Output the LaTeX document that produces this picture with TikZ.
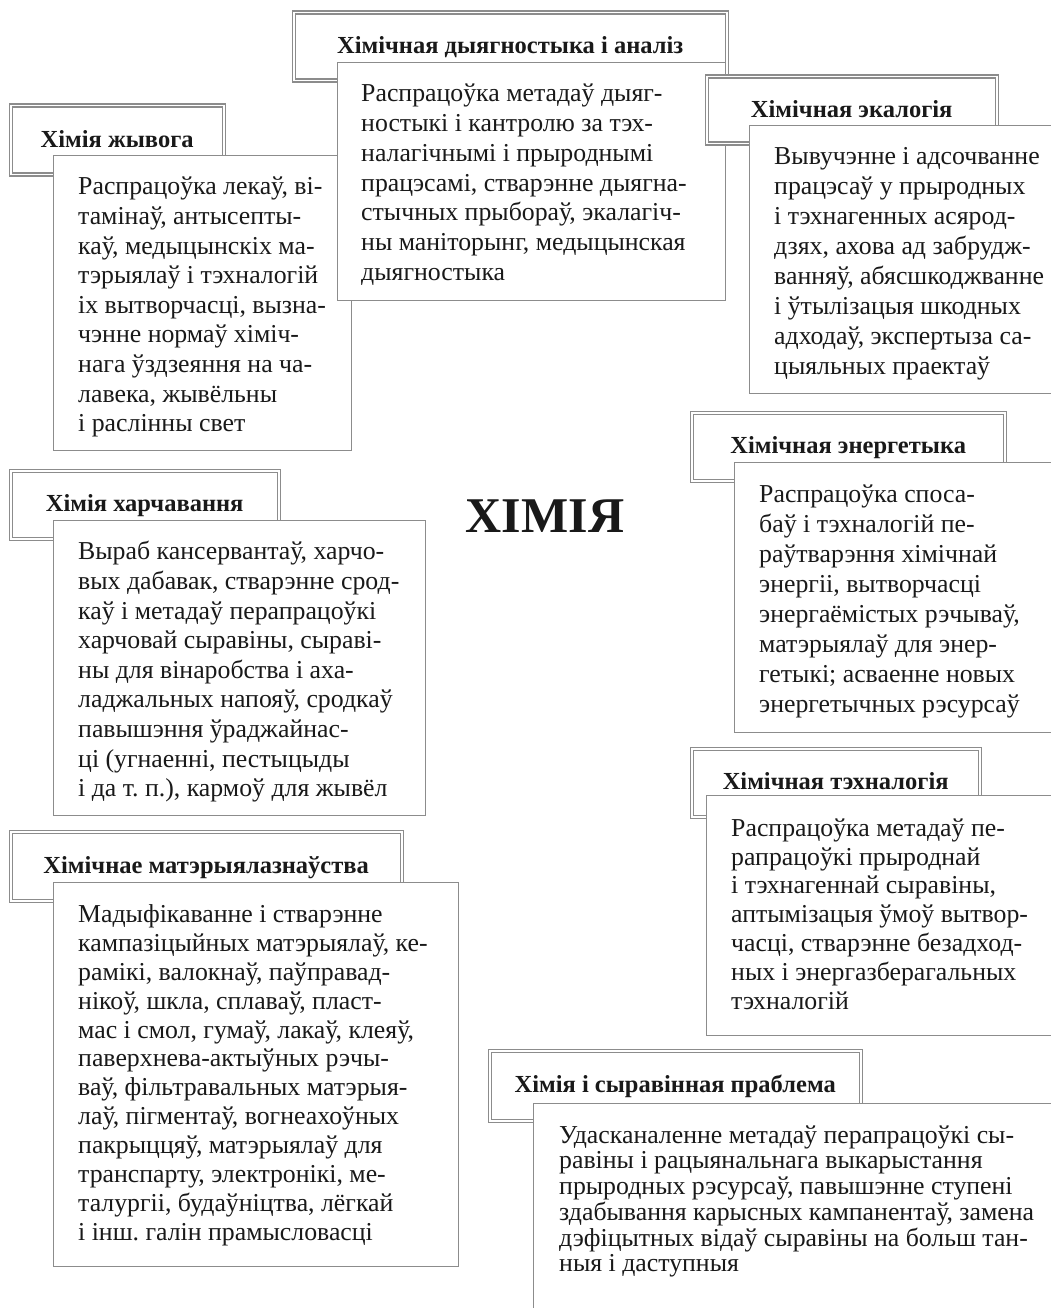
\documentclass[tikz,border=0pt]{standalone}
\usepackage{fontspec}
\setmainfont{Liberation Serif}
\usetikzlibrary{positioning}
\frenchspacing

\begin{document}
\begin{tikzpicture}[x=1pt,y=1pt,
    headbox/.style={draw=black!45,double=white,double distance=1.6pt,line width=1.4pt,
                    fill=white,anchor=north west,inner sep=0pt,text height=19pt,text depth=5pt,
                    font=\fontsize{24.5}{26}\selectfont\bfseries,text=black!90},
    bodybox/.style={draw=black!45,line width=1.3pt,fill=white,anchor=north west,inner sep=0pt},
    bodytext/.style={align=left,inner sep=0pt,font=\fontsize{25.8}{#1}\selectfont,text=black!90},
    bodytext/.default=29.6]

\useasboundingbox (0,0) rectangle (1051,-1308);
\clip (0,0) rectangle (1051,-1308);

% living matter
\node[headbox,minimum width=213,minimum height=69] (livhead) at (10,-105) {Хімія жывога};
\node[bodybox,minimum width=298,minimum height=295] (livbox) at (53,-155) {};
\node[bodytext,below right=19pt and 25pt of livbox.north west] (livtext)
  {\strut Распрацоўка лекаў, ві-\\
   тамінаў, антысепты-\\
   каў, медыцынскіх ма-\\
   тэрыялаў і тэхналогій\\
   іх вытворчасці, вызна-\\
   чэнне нормаў хіміч-\\
   нага ўздзеяння на ча-\\
   лавека, жывёльны\\
   і раслінны свет};

% diagnostics
\node[headbox,minimum width=433,minimum height=68] (diaghead) at (293,-12) {Хімічная дыягностыка і аналіз};
\node[bodybox,minimum width=388,minimum height=238] (diagbox) at (337,-62) {};
\node[bodytext=29.7,below right=19pt and 24pt of diagbox.north west] (diagtext)
  {\strut Распрацоўка метадаў дыяг-\\
   ностыкі і кантролю за тэх-\\
   налагічнымі і прыроднымі\\
   працэсамі, стварэнне дыягна-\\
   стычных прыбораў, экалагіч-\\
   ны маніторынг, медыцынская\\
   дыягностыка};

% ecology
\node[headbox,minimum width=290,minimum height=67] (ecohead) at (706,-76) {Хімічная экалогія};
\node[bodybox,minimum width=320,minimum height=268] (ecobox) at (749,-125) {};
\node[bodytext=30,below right=18pt and 25pt of ecobox.north west] (ecotext)
  {\strut Вывучэнне і адсочванне\\
   працэсаў у прыродных\\
   і тэхнагенных асярод-\\
   дзях, ахова ад забрудж-\\
   ванняў, абясшкоджванне\\
   і ўтылізацыя шкодных\\
   адходаў, экспертыза са-\\
   цыяльных праектаў};

% energy
\node[headbox,minimum width=313,minimum height=68] (enhead) at (691,-412) {Хімічная энергетыка};
\node[bodybox,minimum width=330,minimum height=270] (enbox) at (734,-462) {};
\node[bodytext=30,below right=19pt and 25pt of enbox.north west] (entext)
  {\strut Распрацоўка споса-\\
   баў і тэхналогій пе-\\
   раўтварэння хімічнай\\
   энергіі, вытворчасці\\
   энергаёмістых рэчываў,\\
   матэрыялаў для энер-\\
   гетыкі; асваенне новых\\
   энергетычных рэсурсаў};

% centre
\node[font=\fontsize{50}{50}\selectfont\bfseries,text=black!90] (chem) at (545,-516) {ХІМІЯ};

% food
\node[headbox,minimum width=268,minimum height=68] (foodhead) at (10,-470) {Хімія харчавання};
\node[bodybox,minimum width=372,minimum height=295] (foodbox) at (53,-520) {};
\node[bodytext,below right=19pt and 25pt of foodbox.north west] (foodtext)
  {\strut Выраб кансервантаў, харчо-\\
   вых дабавак, стварэнне срод-\\
   каў і метадаў перапрацоўкі\\
   харчовай сыравіны, сыраві-\\
   ны для вінаробства і аха-\\
   ладжальных напояў, сродкаў\\
   павышэння ўраджайнас-\\
   ці (угнаенні, пестыцыды\\
   і да т. п.), кармоў для жывёл};

% technology
\node[headbox,minimum width=288,minimum height=68] (techhead) at (691,-748) {Хімічная тэхналогія};
\node[bodybox,minimum width=360,minimum height=240] (techbox) at (706,-795) {};
\node[bodytext=28.8,below right=21pt and 25pt of techbox.north west] (techtext)
  {\strut Распрацоўка метадаў пе-\\
   рапрацоўкі прыроднай\\
   і тэхнагеннай сыравіны,\\
   аптымізацыя ўмоў вытвор-\\
   часці, стварэнне безадход-\\
   ных і энергазберагальных\\
   тэхналогій};

% materials
\node[headbox,minimum width=391,minimum height=69] (mathead) at (10,-831) {Хімічнае матэрыялазнаўства};
\node[bodybox,minimum width=405,minimum height=384] (matbox) at (53,-882) {};
\node[bodytext=28.9,below right=20pt and 25pt of matbox.north west] (mattext)
  {\strut Мадыфікаванне і стварэнне\\
   кампазіцыйных матэрыялаў, ке-\\
   рамікі, валокнаў, паўправад-\\
   нікоў, шкла, сплаваў, пласт-\\
   мас і смол, гумаў, лакаў, клеяў,\\
   паверхнева-актыўных рэчы-\\
   ваў, фільтравальных матэрыя-\\
   лаў, пігментаў, вогнеахоўных\\
   пакрыццяў, матэрыялаў для\\
   транспарту, электронікі, ме-\\
   талургіі, будаўніцтва, лёгкай\\
   і інш. галін прамысловасці};

% raw materials
\node[headbox,minimum width=371,minimum height=70] (rawhead) at (489,-1050) {Хімія і сыравінная праблема};
\node[bodybox,minimum width=540,minimum height=230] (rawbox) at (533,-1103) {};
\node[bodytext=25.7,below right=22pt and 26pt of rawbox.north west] (rawtext)
  {\strut Удасканаленне метадаў перапрацоўкі сы-\\
   равіны і рацыянальнага выкарыстання\\
   прыродных рэсурсаў, павышэнне ступені\\
   здабывання карысных кампанентаў, замена\\
   дэфіцытных відаў сыравіны на больш тан-\\
   ныя і даступныя};

\end{tikzpicture}
\end{document}
